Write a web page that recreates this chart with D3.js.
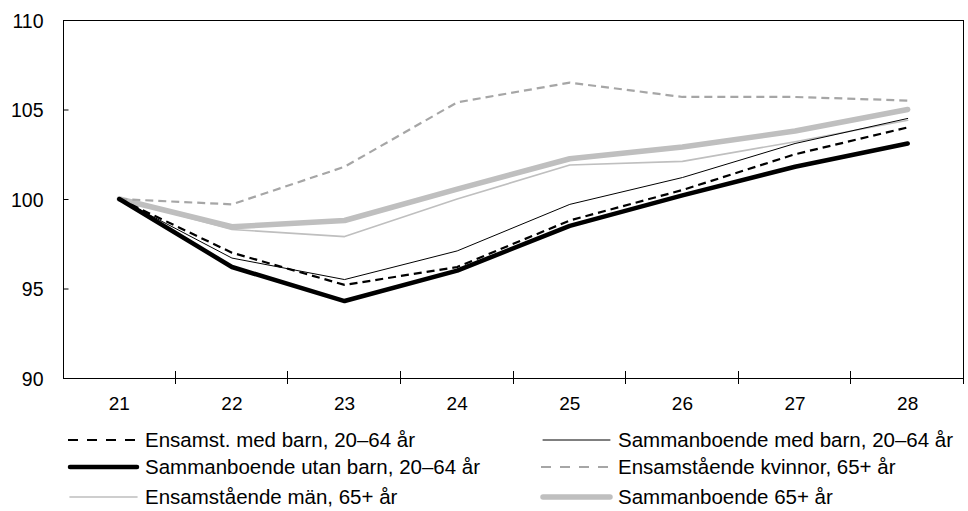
<!DOCTYPE html>
<html>
<head>
<meta charset="utf-8">
<script src="https://cdn.jsdelivr.net/npm/d3@7"></script>
<style>
  body { margin: 0; background: #fff; }
  svg text { font-family: Arial, "Liberation Sans", sans-serif; fill: #000; }
</style>
</head>
<body>
<svg width="968" height="511"></svg>
<script>
// data
const years = ["21", "22", "23", "24", "25", "26", "27", "28"];
const yTicks = [90, 95, 100, 105, 110];

const ensamstMedBarn     = [100, 97.0, 95.2, 96.2, 98.8, 100.5, 102.5, 104.0];
const sambMedBarn        = [100, 96.7, 95.5, 97.1, 99.7, 101.2, 103.1, 104.5];
const sambUtanBarn       = [100, 96.2, 94.3, 96.0, 98.5, 100.2, 101.8, 103.1];
const ensamKvinnor65     = [100, 99.7, 101.8, 105.4, 106.5, 105.7, 105.7, 105.5];
const ensamMan65         = [100, 98.3, 97.9, 100.0, 101.9, 102.1, 103.2, 104.4];
const samb65             = [100, 98.45, 98.8, 100.55, 102.25, 102.9, 103.8, 105.0];

const seriesNames = [
  "Ensamst. med barn, 20–64 år",
  "Sammanboende med barn, 20–64 år",
  "Sammanboende utan barn, 20–64 år",
  "Ensamstående kvinnor, 65+ år",
  "Ensamstående män, 65+ år",
  "Sammanboende 65+ år"
];
const seriesValues = [ensamstMedBarn, sambMedBarn, sambUtanBarn, ensamKvinnor65, ensamMan65, samb65];

// styles per series
const styles = [
  { color: "#000", width: 2.2, dash: "8,5" },
  { color: "#000", width: 1, dash: null },
  { color: "#000", width: 4.5, dash: null },
  { color: "#a6a6a6", width: 2.2, dash: "8,5" },
  { color: "#bfbfbf", width: 1.6, dash: null },
  { color: "#bfbfbf", width: 5.5, dash: null }
];
// draw order (bottom first)
const drawOrder = [5, 4, 3, 1, 2, 0];

const margin = { top: 20, left: 63, right: 4, bottom: 133 };
const width = 968, height = 511;
const svg = d3.select("svg");

const x = d3.scaleBand().domain(years).range([margin.left, width - margin.right]);
const y = d3.scaleLinear().domain([90, 110]).range([height - margin.bottom, margin.top]);

// frame
svg.append("rect")
  .attr("x", margin.left + 0.5).attr("y", margin.top + 0.5)
  .attr("width", width - margin.right - margin.left - 1)
  .attr("height", y(90) - margin.top)
  .attr("fill", "none").attr("stroke", "#000").attr("stroke-width", 1);

// y axis
const yAxis = svg.append("g")
  .attr("transform", `translate(${margin.left + 0.5},0)`)
  .call(d3.axisRight(y).tickValues(yTicks).tickSize(5).tickFormat(d3.format("d")));
yAxis.select(".domain").remove();
yAxis.selectAll(".tick line").attr("stroke", "#000");
yAxis.selectAll(".tick text")
  .attr("x", -20).attr("text-anchor", "end")
  .attr("font-size", 19.5).attr("dy", "0.36em");

// x axis, ticks at band edges crossing the axis line
const xAxisG = svg.append("g");
const edges = years.map(d => x(d)).concat([x(years[years.length - 1]) + x.bandwidth()]);
xAxisG.selectAll("line.tk").data(edges.slice(1))
  .enter().append("line")
  .attr("x1", d => Math.round(d) - 0.5).attr("x2", d => Math.round(d) - 0.5)
  .attr("y1", y(90) - 7).attr("y2", y(90) + 6)
  .attr("stroke", "#000");
xAxisG.selectAll("text").data(years)
  .enter().append("text")
  .attr("x", d => x(d) + x.bandwidth() / 2)
  .attr("y", y(90) + 32)
  .attr("text-anchor", "middle")
  .attr("font-size", 19)
  .text(d => d);

// lines
const line = d3.line()
  .x((d, i) => x(years[i]) + x.bandwidth() / 2)
  .y(d => y(d))
  .curve(d3.curveLinear);

drawOrder.forEach(i => {
  const s = styles[i];
  svg.append("path")
    .datum(seriesValues[i])
    .attr("d", line)
    .attr("fill", "none")
    .attr("stroke", s.color)
    .attr("stroke-width", s.width)
    .attr("stroke-linejoin", "round")
    .attr("stroke-linecap", s.dash ? "butt" : "round")
    .attr("stroke-dasharray", s.dash);
});

// legend
const legendCols = [68, 541];
const legendRows = [440, 467, 497];
seriesNames.forEach((name, i) => {
  const s = styles[i];
  const lx = legendCols[i % 2], ly = legendRows[Math.floor(i / 2)];
  svg.append("line")
    .attr("x1", lx + (s.dash ? 0 : 2)).attr("x2", lx + (s.dash ? 67 : 69))
    .attr("y1", ly).attr("y2", ly)
    .attr("stroke", s.color)
    .attr("stroke-width", s.width)
    .attr("stroke-linecap", s.dash ? "butt" : "round")
    .attr("stroke-dasharray", s.dash ? "10,9" : null);
  svg.append("text")
    .attr("x", lx + 77).attr("y", ly)
    .attr("dy", "0.36em")
    .attr("font-size", 20.5)
    .text(name);
});
</script>
</body>
</html>
